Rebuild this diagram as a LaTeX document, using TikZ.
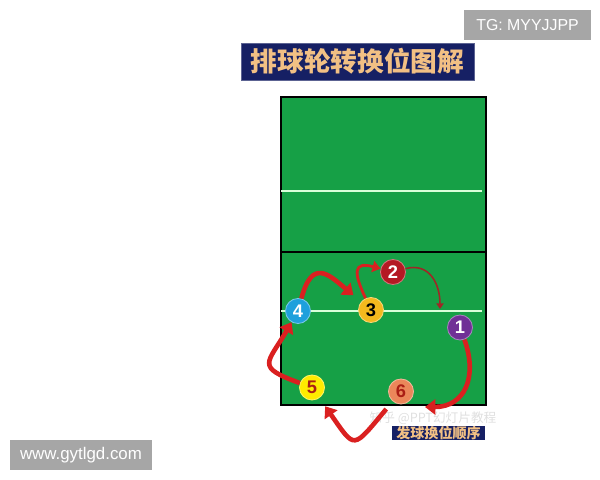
\documentclass[tikz,border=0pt]{standalone}
\usepackage{fontspec}
\setmainfont{Liberation Sans}
\newfontfamily\cjk{Noto Sans CJK SC}
\usetikzlibrary{arrows.meta}

\definecolor{court}{RGB}{22,160,70}
\definecolor{navy}{RGB}{22,32,100}
\definecolor{gold}{RGB}{242,192,132}
\definecolor{arrowred}{RGB}{218,32,32}
\definecolor{darkred}{RGB}{160,38,38}
\definecolor{tagback}{RGB}{166,166,166}
\definecolor{pone}{RGB}{112,48,150}
\definecolor{ptwo}{RGB}{180,25,35}
\definecolor{pthree}{RGB}{245,185,30}
\definecolor{pfour}{RGB}{30,160,220}
\definecolor{pfive}{RGB}{255,235,0}
\definecolor{psix}{RGB}{235,135,90}
\definecolor{numred}{RGB}{170,30,20}

\begin{document}
\begin{tikzpicture}[x=0.25mm,y=0.25mm]
\useasboundingbox (0,0) rectangle (600,480);

      % court
      \fill[court] (281,75) rectangle (486,383);
      \draw[line width=0.8pt] (281,75) rectangle (486,383);
      \draw[line width=1.2pt] (281,228) -- (486,228);
      \draw[white!85!green, line width=1.3pt] (281,289) -- (482,289);
      \draw[white!85!green, line width=1.3pt] (281,169) -- (482,169);

      % titles and tags
      \node[fill=navy, draw=navy!70!white, minimum width=58.25mm, minimum height=9.25mm,
            inner sep=0pt, text=gold, font=\cjk\bfseries\fontsize{19}{19}\selectfont]
            (title) at (357.5,418.5) {排球轮转换位图解};
      \node[fill=navy, minimum width=23.25mm, minimum height=3.5mm, inner sep=0pt,
            text=gold, font=\cjk\bfseries\fontsize{10}{10}\selectfont]
            (order) at (438.5,46.5) {发球换位顺序};
      \node[text=white!75!gray, font=\cjk\fontsize{9}{9}\selectfont, inner sep=0pt]
            (zhihu) at (433,62) {知乎 @PPT幻灯片教程};
      \node[fill=tagback, minimum width=31.75mm, minimum height=7.5mm, inner sep=0pt,
            text=white, font=\fontsize{11.3}{11.3}\selectfont]
            (tg) at (527.5,455) {TG: MYYJJPP};
      \node[fill=tagback, minimum width=35.5mm, minimum height=7.5mm, inner sep=0pt,
            text=white, font=\fontsize{12}{12}\selectfont]
            (www) at (81,25) {www.gytlgd.com};

      % players
      \begin{scope}[every node/.style={circle, minimum size=6.25mm, inner sep=0pt,
                    line width=0.6pt, font=\bfseries\fontsize{13}{13}\selectfont}]
        \node[fill=pone, draw=pone!60!white, text=white]     (1) at (460,152.5) {1};
        \node[fill=ptwo, draw=ptwo!60!white, text=white]     (2) at (393,208)   {2};
        \node[fill=pthree, draw=pthree!60!white, text=black] (3) at (371,170)   {3};
        \node[fill=pfour, draw=pfour!60!white, text=white]   (4) at (298,169)   {4};
        \node[fill=pfive, draw=pfive!60!white, text=numred]  (5) at (312,92.5)  {5};
        \node[fill=psix, draw=psix!60!white, text=numred]    (6) at (401,88.5)  {6};
      \end{scope}

      \coordinate (n1) at (440,171);
      \coordinate (b6) at (425,73);

      % rotation arrows
      \begin{scope}[every edge/.style={draw=arrowred, line width=3.3pt,
                    -{Triangle[length=2.6mm,width=3.8mm]}}]
        \path (4) edge[out=75, in=140, looseness=1.8, shorten >=2.5mm] (3);
        \path (3) edge[out=115, in=165, looseness=2.2, line width=2pt,
                       -{Triangle[length=2mm,width=2.8mm]}] (2);
        \path (2) edge[out=15, in=90, looseness=1.2, draw=darkred, line width=1.1pt,
                       -{Triangle[length=1.4mm,width=1.8mm]}] (n1);
        \path (1) edge[out=-70, in=0, looseness=1.3] (b6);
        \path (6) edge[out=-130, in=-55, looseness=2.2, shorten <=2.5mm, shorten >=2.5mm] (5);
        \path (5) edge[out=160, in=-120, looseness=2] (4);
      \end{scope}

\end{tikzpicture}
\end{document}
